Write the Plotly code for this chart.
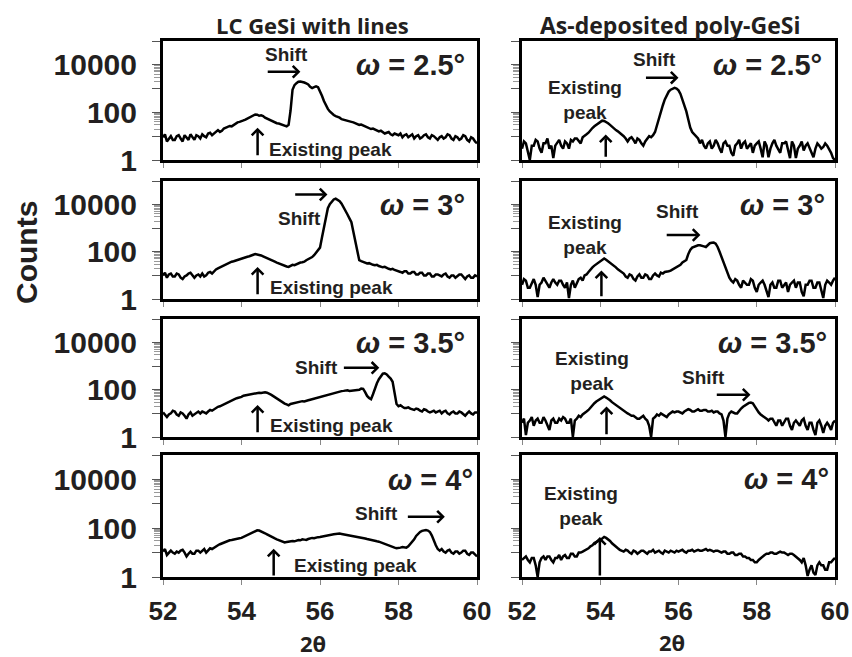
import plotly.graph_objects as go
from plotly.subplots import make_subplots

# 2-theta sampling grid (degrees), 0.05 deg steps
TWO_THETA = [round(52 + 0.05 * i, 2) for i in range(161)]

# LC GeSi with lines (counts)
LC_25 = [9, 12, 6, 8, 10, 7, 7, 10, 11, 8, 6, 11, 9, 7, 12, 9, 7, 11, 10, 8,
         12, 10, 9, 13, 14, 11, 13, 16, 18, 15, 17, 21, 23, 25, 27, 26, 30, 35, 38, 40,
         42, 46, 50, 55, 58, 66, 70, 82, 80, 72, 75, 70, 60, 55, 48, 45, 40, 36, 35, 34,
         32, 30, 28, 26, 30, 120, 900, 1400, 1700, 1950, 2000, 1950, 1800, 1650, 1500, 1200, 1050, 1150, 1250, 1150,
         800, 500, 300, 190, 140, 110, 90, 78, 70, 66, 60, 52, 50, 48, 44, 42, 40, 38, 36, 33,
         30, 31, 28, 25, 23, 22, 20, 21, 19, 17, 16, 17, 15, 13, 14, 15, 12, 11, 13, 12,
         11, 13, 9, 11, 12, 9, 10, 12, 8, 10, 11, 8, 9, 11, 12, 9, 8, 11, 10, 8,
         7, 9, 10, 8, 9, 12, 11, 8, 7, 10, 9, 7, 8, 11, 10, 7, 6, 9, 8, 6,
         5]
LC_30 = [10, 13, 8, 11, 12, 9, 9, 12, 11, 8, 7, 9, 10, 12, 13, 10, 8, 10, 11, 9,
         12, 9, 10, 13, 14, 12, 15, 18, 20, 22, 25, 27, 30, 32, 35, 38, 40, 43, 45, 48,
         50, 54, 58, 62, 65, 72, 75, 80, 78, 74, 70, 64, 58, 53, 50, 46, 42, 38, 35, 32,
         30, 28, 26, 24, 23, 25, 28, 27, 30, 33, 35, 36, 38, 44, 48, 52, 60, 72, 90, 115,
         150, 400, 1200, 3000, 7000, 10500, 14000, 16500, 18000, 16500, 14000, 11000, 8000, 5500, 3800, 2600, 1800, 700, 250, 90,
         44, 40, 38, 35, 32, 33, 30, 28, 27, 28, 25, 23, 22, 23, 20, 19, 18, 19, 17, 16,
         16, 14, 13, 15, 15, 12, 12, 14, 14, 11, 11, 13, 13, 10, 10, 12, 12, 9, 9, 11,
         11, 10, 9, 11, 12, 9, 8, 10, 10, 8, 9, 11, 11, 9, 7, 9, 10, 8, 8, 10,
         9]
LC_35 = [11, 9, 7, 9, 10, 13, 12, 9, 8, 11, 10, 8, 6, 9, 11, 8, 9, 11, 12, 10,
         12, 11, 10, 12, 14, 13, 15, 17, 19, 20, 22, 25, 28, 30, 33, 36, 38, 42, 45, 47,
         50, 56, 58, 60, 62, 68, 70, 71, 72, 75, 74, 78, 78, 75, 70, 62, 55, 48, 42, 36,
         32, 29, 26, 24, 22, 25, 26, 27, 28, 31, 30, 33, 32, 35, 36, 38, 40, 43, 45, 48,
         50, 52, 55, 60, 62, 66, 70, 75, 78, 80, 85, 88, 90, 92, 95, 90, 92, 96, 98, 96,
         100, 112, 110, 80, 55, 45, 40, 65, 120, 190, 280, 380, 480, 500, 450, 360, 300, 220, 80, 25,
         20, 22, 19, 17, 17, 18, 16, 15, 14, 16, 15, 13, 12, 15, 14, 12, 11, 12, 13, 11,
         12, 13, 10, 12, 13, 10, 9, 11, 12, 10, 10, 12, 11, 9, 8, 10, 12, 10, 9, 11,
         11]
LC_40 = [11, 14, 8, 10, 12, 10, 9, 11, 10, 12, 13, 10, 7, 9, 11, 9, 9, 12, 12, 10,
         12, 14, 10, 13, 15, 14, 16, 19, 20, 22, 24, 26, 28, 30, 32, 33, 35, 36, 38, 39,
         40, 44, 48, 53, 58, 64, 70, 76, 82, 80, 75, 68, 62, 56, 50, 46, 42, 38, 35, 32,
         30, 28, 26, 27, 28, 31, 30, 29, 31, 33, 32, 35, 34, 33, 36, 38, 40, 39, 42, 43,
         44, 46, 48, 51, 52, 54, 55, 57, 58, 61, 60, 58, 56, 55, 52, 53, 50, 48, 46, 45,
         44, 42, 40, 38, 36, 34, 33, 31, 30, 29, 28, 26, 24, 22, 20, 19, 18, 17, 16, 15,
         15, 16, 17, 16, 16, 18, 22, 28, 35, 48, 60, 70, 78, 82, 84, 80, 70, 50, 30, 20,
         14, 12, 14, 11, 10, 12, 13, 10, 9, 11, 11, 9, 10, 12, 12, 9, 8, 10, 10, 8,
         7]

# As-deposited poly-GeSi (counts)
AD_25 = [3, 6, 5, 2, 1, 4, 4, 7, 6, 3, 2, 5, 5, 8, 3, 4, 1.2, 4, 5, 7,
         4, 3, 6, 5, 3, 7, 6, 8, 8, 6, 5, 9, 10, 12, 14, 18, 22, 26, 30, 35,
         40, 45, 44, 40, 35, 30, 25, 20, 18, 16, 14, 12, 10, 8, 6, 8, 9, 7, 5, 8,
         7, 5, 4, 6, 8, 10, 9, 11, 15, 30, 60, 110, 200, 350, 550, 750, 900, 1000, 1070, 1000,
         850, 600, 350, 200, 110, 50, 23, 15, 12, 10, 8, 5, 7, 4, 3, 5, 6, 3, 4, 7,
         5, 3, 2, 5, 6, 4, 4, 2, 1.5, 4, 5, 7, 3, 5, 6, 3, 4, 5, 2, 4,
         5, 6, 3, 1.3, 6, 4, 1.3, 3, 5, 7, 4, 3, 2, 5, 5, 6, 3, 1.2, 6, 4,
         1.2, 3, 4, 6, 2.5, 4, 5, 3, 2, 1.3, 3, 5, 4, 3, 3.5, 5, 4, 3, 2, 1.2,
         1]
AD_30 = [4, 7, 6, 3, 3, 5, 7, 4, 1.2, 4, 5, 8, 6, 4, 3, 5, 7, 5, 4, 6,
         6, 4, 3, 5, 1.1, 4, 6, 3, 5, 7, 8, 6, 10, 11, 14, 18, 22, 26, 30, 35,
         40, 48, 52, 46, 40, 34, 28, 25, 22, 18, 16, 14, 12, 9, 8, 11, 10, 7, 6, 9,
         11, 8, 8, 11, 10, 7, 7, 10, 12, 10, 9, 13, 12, 14, 14, 15, 16, 18, 20, 22,
         24, 28, 35, 40, 45, 80, 120, 150, 165, 180, 190, 190, 185, 170, 160, 200, 230, 240, 245, 220,
         160, 100, 60, 35, 20, 12, 8, 6, 5, 7, 6, 4, 3, 6, 5, 4, 4, 7, 6, 3,
         2, 4, 5, 6, 4, 2, 1.2, 4, 5, 3, 3, 6, 6, 3, 4, 5, 2, 4, 5, 6,
         3, 5, 5, 2, 1.3, 4, 4, 6, 6, 3, 3, 5, 5, 2, 1.1, 4, 6, 5, 4, 6,
         8]
AD_35 = [4, 6, 1.2, 4, 5, 7, 3, 5, 6, 4, 4, 7, 5, 3, 2, 5, 6, 4, 4, 6,
         5, 7, 6, 4, 4, 6, 1, 5, 6, 8, 7, 9, 10, 12, 14, 18, 22, 27, 32, 36,
         40, 47, 52, 47, 42, 36, 30, 26, 22, 19, 17, 15, 13, 11, 10, 9, 8, 8, 7, 6,
         6, 7, 8, 6, 5, 3, 1, 6, 7, 9, 8, 10, 9, 8, 7, 9, 10, 12, 11, 12,
         12, 11, 10, 12, 13, 15, 14, 12, 12, 14, 15, 13, 13, 14, 14, 12, 12, 13, 11, 12,
         12, 10, 9, 5, 1, 6, 10, 12, 11, 10, 10, 13, 16, 19, 22, 26, 28, 29, 27, 20,
         14, 11, 9, 8, 7, 6, 5, 6, 6, 4, 3, 5, 5, 3, 4, 6, 6, 3, 2, 4,
         5, 4, 3, 5, 6, 3, 2, 4, 4, 2, 1.2, 4, 5, 3, 1.5, 3, 4, 3, 2, 4,
         5]
AD_40 = [5, 6, 7, 5, 4, 6, 6, 3, 1, 4, 6, 7, 5, 7, 7, 5, 4, 6, 6, 8,
         5, 7, 8, 6, 6, 9, 9, 7, 7, 10, 10, 11, 12, 14, 15, 18, 20, 25, 28, 30,
         32, 38, 44, 40, 35, 30, 24, 20, 17, 15, 13, 12, 11, 13, 12, 10, 9, 12, 11, 9,
         10, 12, 12, 10, 9, 11, 11, 13, 10, 11, 12, 10, 9, 12, 11, 10, 12, 11, 10, 12,
         11, 12, 13, 11, 10, 12, 12, 13, 11, 12, 13, 12, 12, 13, 14, 12, 13, 12, 11, 12,
         12, 11, 10, 11, 11, 9, 9, 10, 10, 8, 8, 9, 9, 7, 7, 6, 6, 5, 5, 4,
         4, 5, 6, 7, 8, 9, 9, 10, 10, 9, 9, 10, 11, 10, 10, 9, 8, 9, 9, 8,
         7, 6, 5, 4, 6, 3, 1.1, 2, 3, 1.5, 1.2, 3, 4, 3, 3, 2, 2, 4, 4, 5,
         6]

OMEGAS = ["2.5", "3", "3.5", "4"]
LEFT_SERIES = [LC_25, LC_30, LC_35, LC_40]
RIGHT_SERIES = [AD_25, AD_30, AD_35, AD_40]
for s in LEFT_SERIES + RIGHT_SERIES:
    assert len(s) == len(TWO_THETA), len(s)

X_TICKS = [52, 54, 56, 58, 60]
Y_TICKS = [1, 10, 100, 1000, 10000, 100000]
Y_TICKTEXT = ["1", "", "100", "", "10000", ""]
Y_MINOR = [20, 30, 40, 50, 60, 70, 80, 90, 2000, 3000, 4000, 5000, 6000, 7000, 8000, 9000]

INK = "#231f20"
BODY = "Liberation Sans"
TITLE_FONT = "Open Sans"
W, H = 852, 657


def fx(px):
    return px / W


def fy(py):
    return 1 - py / H


fig = make_subplots(rows=4, cols=2)

col_px = [(163, 477), (522, 835)]
row_px = [(41, 160), (181, 299), (319, 437), (455, 577)]
col_dom = [[fx(a), fx(b)] for a, b in col_px]
row_dom = [[fy(b), fy(t)] for t, b in row_px]

for r in range(4):
    for c in range(2):
        series = LEFT_SERIES[r] if c == 0 else RIGHT_SERIES[r]
        fig.add_trace(go.Scatter(x=TWO_THETA, y=series, mode="lines",
                                 line=dict(color="black", width=2.5),
                                 showlegend=False, hoverinfo="skip"),
                      row=r + 1, col=c + 1)

for r in range(4):
    for c in range(2):
        idx = r * 2 + c + 1
        sfx = "" if idx == 1 else str(idx)
        fig.layout["xaxis" + sfx].update(
            domain=col_dom[c], range=[52, 60], showgrid=False, zeroline=False,
            automargin=False,
            showline=True, linewidth=3, linecolor="black", mirror=True,
            tickmode="array", tickvals=X_TICKS, ticks="outside", ticklen=5,
            tickcolor="#888", tickwidth=1.2, ticklabelstandoff=4,
            showticklabels=(r == 3),
            tickfont=dict(family=BODY, size=26, color=INK, weight="bold"),
        )
        fig.layout["yaxis" + sfx].update(
            domain=row_dom[r], type="log", range=[0, 5], showgrid=False,
            zeroline=False, automargin=False,
            showline=True, linewidth=3, linecolor="black",
            mirror=True, tickmode="array", tickvals=Y_TICKS,
            ticktext=Y_TICKTEXT, ticks="outside", ticklen=8, tickcolor="#555",
            tickwidth=1.2, showticklabels=(c == 0), ticklabelstandoff=9,
            tickfont=dict(family=BODY, size=30, color=INK, weight="bold"),
            minor=dict(tickmode="array", tickvals=Y_MINOR, ticks="outside",
                       ticklen=6, tickcolor="#999", tickwidth=1),
        )

ann = []


def ref(r, c):
    idx = r * 2 + c + 1
    sfx = "" if idx == 1 else str(idx)
    return "x" + sfx, "y" + sfx


def text(r, c, x, y, s, size=19, anchor="center"):
    xr, yr = ref(r, c)
    ann.append(dict(x=x, y=y, xref=xr, yref=yr, text=s, showarrow=False,
                    xanchor=anchor, yanchor="middle",
                    font=dict(family=BODY, size=size, color=INK, weight="bold")))


def arrow(r, c, x0, y0, x1, y1):
    xr, yr = ref(r, c)
    ann.append(dict(x=x1, y=y1, ax=x0, ay=y0, xref=xr, yref=yr, axref=xr,
                    ayref=yr, text="", showarrow=True, arrowhead=4,
                    arrowsize=0.9, arrowwidth=2.5, arrowcolor="black",
                    standoff=0, startstandoff=0))


def paper_text(px, py, s, family, size, angle=0):
    ann.append(dict(x=fx(px), y=fy(py), xref="paper", yref="paper",
                    text=s, showarrow=False, xanchor="center", yanchor="middle",
                    textangle=angle,
                    font=dict(family=family, size=size, color=INK, weight="bold")))


# omega labels
omega_pos = {(0, 0): (59.75, 4.0), (1, 0): (59.75, 4.0), (2, 0): (59.75, 4.0), (3, 0): (59.95, 3.97),
             (0, 1): (59.72, 4.0), (1, 1): (59.8, 4.0), (2, 1): (59.85, 4.0), (3, 1): (59.9, 4.03)}
for (r, c), (x, y) in omega_pos.items():
    text(r, c, x, y, "<i>ω</i> = " + OMEGAS[r] + "°", size=29, anchor="right")

# left column
text(0, 0, 55.14, 4.43, "Shift")
arrow(0, 0, 54.63, 3.71, 55.5, 3.71)
text(0, 0, 56.27, 0.43, "Existing peak")
arrow(0, 0, 54.41, 0.14, 54.41, 1.36)

text(1, 0, 55.48, 3.43, "Shift")
arrow(1, 0, 55.33, 4.43, 56.19, 4.43)
text(1, 0, 56.29, 0.5, "Existing peak")
arrow(1, 0, 54.41, 0.14, 54.41, 1.36)

text(2, 0, 55.9, 2.93, "Shift")
arrow(2, 0, 56.57, 2.93, 57.51, 2.93)
text(2, 0, 56.29, 0.5, "Existing peak")
arrow(2, 0, 54.41, 0.14, 54.41, 1.36)

text(3, 0, 57.45, 2.6, "Shift")
arrow(3, 0, 58.2, 2.47, 59.18, 2.47)
text(3, 0, 56.9, 0.48, "Existing peak")
arrow(3, 0, 54.82, 0.0, 54.82, 1.16)

# right column
text(0, 1, 55.38, 4.21, "Shift")
arrow(0, 1, 55.13, 3.46, 56.0, 3.46)
text(0, 1, 53.62, 2.53, "Existing<br>peak")
arrow(0, 1, 54.14, 0.07, 54.14, 1.07)

text(1, 1, 55.97, 3.71, "Shift")
arrow(1, 1, 55.66, 2.71, 56.56, 2.71)
text(1, 1, 53.62, 2.71, "Existing<br>peak")
arrow(1, 1, 54.03, 0.05, 54.03, 1.21)

text(2, 1, 56.64, 2.5, "Shift")
arrow(2, 1, 56.94, 1.79, 57.84, 1.79)
text(2, 1, 53.8, 2.79, "Existing<br>peak")
arrow(2, 1, 54.16, 0.05, 54.16, 1.29)

text(3, 1, 53.52, 2.92, "Existing<br>peak")
arrow(3, 1, 53.99, 0.0, 53.99, 1.64)

# titles and axis labels
paper_text(312, 25, "LC GeSi with lines", TITLE_FONT, 22)
paper_text(670, 25, "As-deposited poly-GeSi", TITLE_FONT, 23)
paper_text(313, 643, "2θ", TITLE_FONT, 22)
paper_text(672, 642, "2θ", TITLE_FONT, 22)
paper_text(26, 253, "Counts", BODY, 30, angle=-90)

fig.update_layout(width=W, height=H, margin=dict(l=0, r=0, t=0, b=0, pad=0),
                  autosize=False,
                  paper_bgcolor="white", plot_bgcolor="white",
                  annotations=ann, showlegend=False)

fig.write_html(
    "out.html",
    config={"displayModeBar": False},
    post_script="document.body.style.margin='0';document.body.style.overflow='hidden';",
)
